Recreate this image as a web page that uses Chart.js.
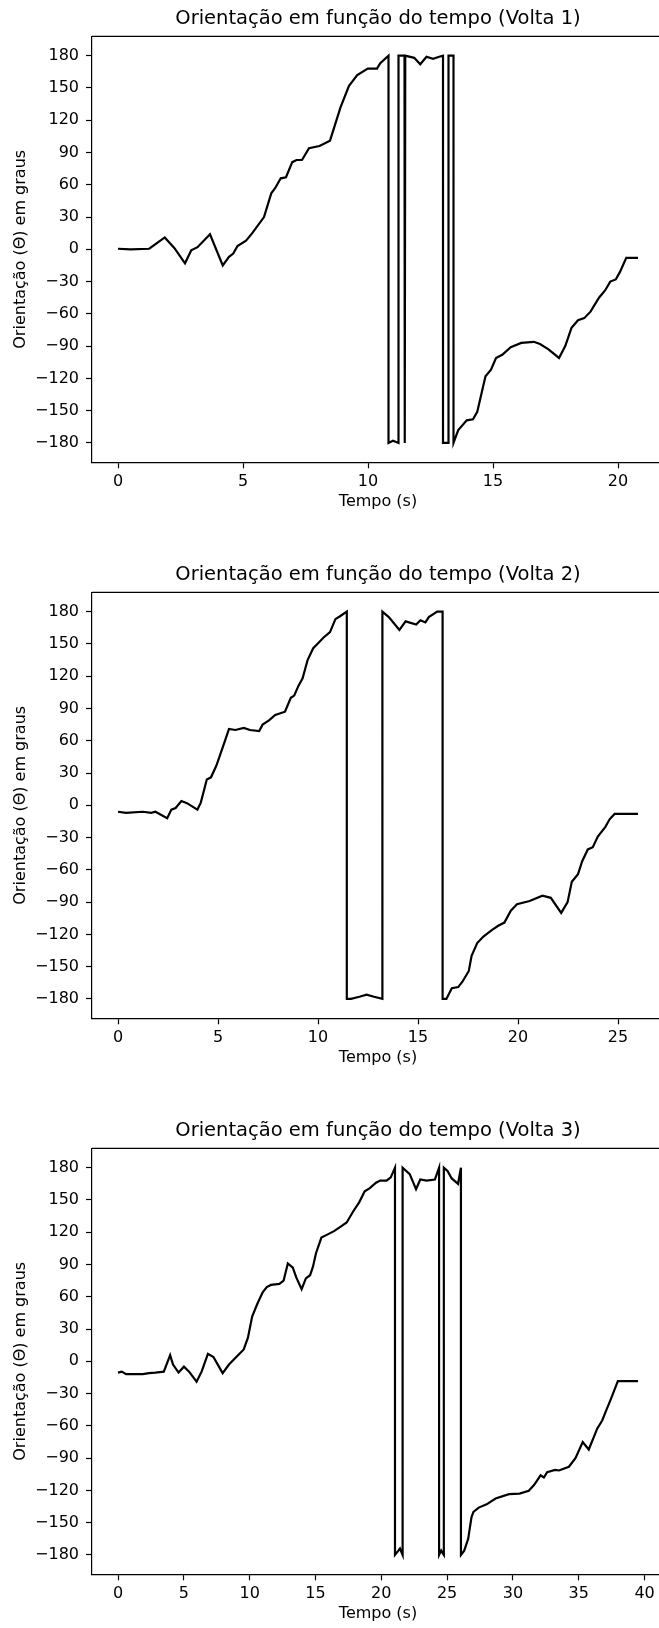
<!DOCTYPE html>
<html>
<head>
<meta charset="utf-8">
<script src="https://cdn.jsdelivr.net/npm/chart.js@4.4.0/dist/chart.umd.min.js"></script>
<style>
    html, body { margin: 0; padding: 0; background: #fff; width: 659px; height: 1628px; overflow: hidden; }
    .panel { position: absolute; left: 0; width: 659px; height: 556px; overflow: hidden; }
    .panel canvas { display: block; }
</style>
</head>
<body>
<div class="panel" style="top:0px"><canvas id="volta1" width="756" height="556"></canvas></div>
<div class="panel" style="top:556px"><canvas id="volta2" width="756" height="556"></canvas></div>
<div class="panel" style="top:1112px"><canvas id="volta3" width="756" height="556"></canvas></div>
<script>
// Tick labels
const yTicks = [-180, -150, -120, -90, -60, -30, 0, 30, 60, 90, 120, 150, 180];
const xTicks1 = [0, 5, 10, 15, 20];
const xTicks2 = [0, 5, 10, 15, 20, 25];
const xTicks3 = [0, 5, 10, 15, 20, 25, 30, 35, 40];

// Volta 1 - tempo (s) / orientacao (graus)
const tempo1 = [0, 0.5, 1.25, 1.87, 2.26, 2.68, 2.93, 3.18, 3.68, 4.19, 4.44, 4.61, 4.78, 5.12, 5.37, 5.84,
    6.13, 6.29, 6.51, 6.72, 6.97, 7.14, 7.36, 7.64, 8.06, 8.48, 8.9, 9.24, 9.57, 9.99, 10.36, 10.49,
    10.82, 10.82, 11.0, 11.22, 11.22, 11.46, 11.47, 11.49, 11.85, 12.09, 12.34, 12.6, 12.85, 13.0,
    13.0, 13.22, 13.22, 13.42, 13.42, 13.61, 13.95, 14.2, 14.37, 14.7, 14.92, 15.12, 15.37, 15.71,
    16.13, 16.63, 16.88, 17.22, 17.64, 17.89, 18.14, 18.4, 18.65, 18.9, 19.24, 19.49, 19.69, 19.91,
    20.08, 20.33, 20.8];
const angulo1 = [0.5, 0, 0.5, 11, 1, -13, -1, 2, 14, -15, -7, -4, 3, 8, 15, 30,
    52, 57, 66, 67, 81, 83, 83, 94, 96, 101, 132, 152, 162, 168, 168, 173,
    180, -180, -178, -180, 180, 180, -180, 180, 178, 172, 179, 177, 179, 180,
    -180, -180, 180, 180, -180, -168, -159, -158, -151, -118, -112, -101, -98, -91,
    -87, -86, -88, -93, -101, -90, -73, -66, -64, -58, -45, -38, -30, -28,
    -21, -8, -8];

// Volta 2
const tempo2 = [0, 0.4, 1.24, 1.66, 1.87, 2.46, 2.67, 2.88, 3.17, 3.45, 3.97, 4.14, 4.44, 4.65, 4.92,
    5.24, 5.55, 5.87, 6.29, 6.6, 7.06, 7.23, 7.55, 7.86, 8.35, 8.64, 8.81, 9.02, 9.23, 9.48, 9.76,
    9.97, 10.28, 10.6, 10.87, 11.12, 11.44, 11.44, 11.65, 12.07, 12.43, 12.8, 13.22, 13.22, 13.54,
    14.07, 14.38, 14.91, 15.12, 15.37, 15.54, 15.96, 16.23, 16.23, 16.42, 16.69, 17.01, 17.22, 17.54,
    17.68, 17.96, 18.27, 18.69, 19.01, 19.32, 19.64, 19.95, 20.58, 21.22, 21.64, 22.16, 22.48, 22.69,
    23.0, 23.21, 23.49, 23.74, 23.99, 24.37, 24.58, 24.83, 26.0];
const angulo2 = [-6, -7, -6, -7, -6, -12, -4, -2.5, 4, 2, -4, 2.5, 24, 26, 37,
    54, 71, 70, 72, 70, 69, 75, 79, 84, 87, 100, 102, 111, 118, 135, 146,
    150, 156, 161, 173, 176, 180, -180, -180, -178, -176, -178, -180, 180, 175,
    163, 171, 168, 172, 170, 175, 180, 180, -180, -180, -170, -169, -164, -154,
    -140, -128, -122, -116, -112, -109, -98, -92, -89, -84, -86, -100, -90, -71,
    -64, -52, -41, -39, -29, -20, -13, -8, -8];

// Volta 3
const tempo3 = [0, 0.29, 0.61, 1.88, 2.36, 2.84, 3.48, 3.96, 4.18, 4.6, 5.01, 5.4, 5.97, 6.35, 6.83,
    7.25, 7.95, 8.43, 8.91, 9.55, 9.87, 10.19, 10.57, 10.98, 11.3, 11.62, 12.26, 12.58, 12.9, 13.28,
    13.54, 13.95, 14.27, 14.59, 14.81, 15.04, 15.45, 15.93, 16.41, 16.89, 17.37, 17.85, 18.33, 18.74,
    19.13, 19.6, 19.92, 20.4, 20.72, 21.04, 21.04, 21.3, 21.42, 21.62, 21.62, 22.16, 22.64, 22.96,
    23.44, 24.07, 24.39, 24.39, 24.55, 24.75, 24.75, 25.03, 25.35, 25.83, 26.05, 26.05, 26.3, 26.6,
    26.85, 27.0, 27.4, 28.0, 28.68, 29.7, 30.5, 31.2, 31.6, 32.1, 32.35, 32.6, 33.2, 33.5, 34.25,
    34.75, 35.3, 35.76, 36.4, 36.78, 37.01, 37.49, 37.97, 39.5];
const angulo3 = [-10.5, -9.6, -12, -12, -11, -10.5, -9.6, 5.7, -3, -10.5, -5, -9.6, -19, -9.6, 7,
    4, -11, -3, 3, 11, 22, 41.5, 53, 64, 69, 71, 72, 75, 91, 87,
    78, 67, 77, 80, 88, 100.5, 115, 118, 121, 125, 129, 139, 148, 158,
    161, 166, 168, 168, 171, 180, -180, -176, -174, -180, 180, 174, 160, 169,
    168, 169, 180, -180, -176, -180, 180, 177, 170, 165, 180, -180, -176, -165,
    -145, -140, -136, -133, -127.5, -123.5, -123, -120.4, -115, -106, -108, -103, -101, -101.5, -98,
    -90, -75, -82, -62.6, -55, -48, -33.5, -18.5, -18.5];

Chart.defaults.font.family = '"DejaVu Sans", sans-serif';
Chart.defaults.color = '#000';

// top spine (right one falls outside the picture anyway)
const framePlugin = {
    id: 'frame',
    afterDraw(chart) {
        const { ctx, chartArea: a } = chart;
        ctx.save();
        ctx.strokeStyle = '#000';
        ctx.lineWidth = 1.2;
        ctx.beginPath();
        ctx.moveTo(a.left, a.top);
        ctx.lineTo(a.right, a.top);
        ctx.stroke();
        ctx.restore();
    }
};

function fmt(v) {
    return v < 0 ? '\u2212' + Math.abs(v) : String(v);
}

function makeChart(id, title, tempo, angulo, xTicks) {
    const tMax = Math.max(...tempo);
    const pad = tMax * 0.05;
    const points = tempo.map((t, i) => ({ x: t, y: angulo[i] }));

    return new Chart(document.getElementById(id), {
        type: 'line',
        data: {
            datasets: [{
                data: points,
                borderColor: '#000',
                borderWidth: 2.2,
                pointRadius: 0,
                tension: 0,
                fill: false
            }]
        },
        options: {
            responsive: false,
            animation: false,
            layout: { padding: { top: 0, left: 0, right: 92, bottom: 33.7 } },
            plugins: {
                legend: { display: false },
                tooltip: { enabled: false },
                title: {
                    display: true,
                    fullSize: false,
                    text: title,
                    color: '#000',
                    font: { size: 19.5, weight: 'normal' },
                    padding: { top: 7.55, bottom: 5.35 }
                }
            },
            scales: {
                x: {
                    type: 'linear',
                    min: -pad,
                    max: tMax + pad,
                    afterBuildTicks: scale => { scale.ticks = xTicks.map(v => ({ value: v })); },
                    afterFit: scale => { scale.height = 60; },
                    ticks: {
                        autoSkip: false,
                        maxRotation: 0,
                        padding: 3.8,
                        color: '#000',
                        font: { size: 16 },
                        callback: v => fmt(v)
                    },
                    grid: { drawOnChartArea: false, drawTicks: true, tickLength: 6, tickWidth: 1.2, tickColor: '#000' },
                    border: { display: true, color: '#000', width: 1.2 },
                    title: {
                        display: true,
                        text: 'Tempo (s)',
                        color: '#000',
                        font: { size: 16 },
                        padding: { top: 0, bottom: 10.7 }
                    }
                },
                y: {
                    min: -198,
                    max: 198,
                    afterBuildTicks: scale => { scale.ticks = yTicks.map(v => ({ value: v })); },
                    afterFit: scale => { scale.width = 92; },
                    ticks: {
                        padding: 7,
                        color: '#000',
                        font: { size: 16 },
                        callback: v => fmt(v)
                    },
                    grid: { drawOnChartArea: false, drawTicks: true, tickLength: 6, tickWidth: 1.2, tickColor: '#000' },
                    border: { display: true, color: '#000', width: 1.2 },
                    title: {
                        display: true,
                        text: 'Orientação (Θ) em graus',
                        color: '#000',
                        font: { size: 16 },
                        padding: { top: 10.9, bottom: 0 }
                    }
                }
            }
        },
        plugins: [framePlugin]
    });
}

makeChart('volta1', 'Orientação em função do tempo (Volta 1)', tempo1, angulo1, xTicks1);
makeChart('volta2', 'Orientação em função do tempo (Volta 2)', tempo2, angulo2, xTicks2);
makeChart('volta3', 'Orientação em função do tempo (Volta 3)', tempo3, angulo3, xTicks3);
</script>
</body>
</html>
